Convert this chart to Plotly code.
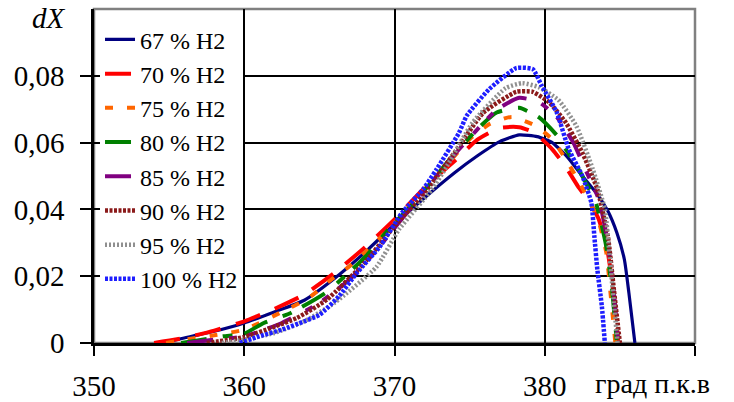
import plotly.graph_objects as go

# ---- data ----
x_67 = [354.5, 356, 358, 360, 362, 364, 366, 368, 370, 372, 374, 375.5, 377, 378.3, 379.5, 380.5, 381.5, 382.5, 383.5, 384.2, 384.8, 385.3, 385.6, 386.0]
y_67 = [0, 0.0015, 0.0035, 0.006, 0.0093, 0.0128, 0.0193, 0.027, 0.0355, 0.0435, 0.051, 0.056, 0.0603, 0.0623, 0.0618, 0.060, 0.0557, 0.050, 0.0445, 0.0395, 0.033, 0.025, 0.015, 0]

x_70 = [354, 356, 358, 360, 362, 364, 366, 368, 370, 372, 374, 375.5, 377, 378.3, 379.3, 380.5, 381.4, 382.2, 383, 383.6, 384.2, 384.6, 384.9]
y_70 = [0, 0.0015, 0.0037, 0.0065, 0.0102, 0.0145, 0.021, 0.0285, 0.037, 0.0465, 0.0545, 0.0608, 0.0644, 0.0646, 0.063, 0.058, 0.0527, 0.047, 0.042, 0.037, 0.027, 0.014, 0]

x_75 = [354.8, 356, 358, 360, 362.5, 364.3, 365.5, 367, 368.5, 370, 372, 374, 375, 376.3, 377.8, 379.4, 380.5, 381.3, 382.1, 383.5, 384.1, 384.4, 384.7]
y_75 = [0, 0.001, 0.0023, 0.004, 0.0093, 0.0135, 0.018, 0.023, 0.029, 0.036, 0.046, 0.056, 0.061, 0.0655, 0.0677, 0.065, 0.061, 0.0557, 0.0497, 0.0377, 0.027, 0.0138, 0]

x_80 = [355.8, 357, 358.6, 360, 361.3, 363.1, 365.4, 366.8, 368.1, 369.6, 371.5, 373.5, 375.5, 376.8, 378.3, 379.6, 380.9, 381.4, 382.2, 383.4, 384.1, 384.5, 384.8]
y_80 = [0, 0.0008, 0.002, 0.0028, 0.006, 0.009, 0.015, 0.0204, 0.026, 0.034, 0.043, 0.054, 0.064, 0.069, 0.0704, 0.0676, 0.0617, 0.058, 0.0524, 0.042, 0.0288, 0.015, 0]

x_85 = [356.2, 358, 360, 362.5, 365, 367.2, 369.2, 371.5, 374.3, 376.8, 378.3, 379.6, 380.8, 381.9, 382.8, 383.6, 384.2, 384.6, 384.9]
y_85 = [0, 0.001, 0.002, 0.006, 0.012, 0.0198, 0.030, 0.0428, 0.058, 0.0698, 0.0734, 0.0722, 0.0677, 0.060, 0.051, 0.043, 0.030, 0.015, 0]

x_90 = [357.5, 360, 363.5, 365.5, 368, 370, 372, 374, 375.9, 378.1, 379.2, 380.3, 381.4, 382.5, 383.5, 384.2, 384.6, 385.0]
y_90 = [0, 0.0018, 0.0075, 0.013, 0.024, 0.035, 0.045, 0.057, 0.0689, 0.0752, 0.0752, 0.072, 0.066, 0.057, 0.046, 0.032, 0.016, 0]

x_95 = [358.5, 360, 362, 364, 366, 368.8, 370.3, 372.5, 373.5, 375.2, 377.4, 378.5, 379.6, 380.9, 382.1, 383.2, 384.0, 384.3, 384.6, 384.85]
y_95 = [0, 0.001, 0.003, 0.0065, 0.012, 0.0228, 0.034, 0.046, 0.053, 0.066, 0.0763, 0.0778, 0.0766, 0.0728, 0.065, 0.052, 0.040, 0.027, 0.012, 0]

x_100 = [359.7, 361, 362.5, 364, 365, 366.3, 367.5, 369, 370.5, 371.9, 372.8, 374.3, 374.8, 376.3, 378.1, 379.2, 379.8, 380.8, 381.6, 382.5, 383.1, 383.3, 383.5, 383.8, 384.0]
y_100 = [0, 0.002, 0.004, 0.0065, 0.0084, 0.014, 0.021, 0.0287, 0.039, 0.046, 0.052, 0.063, 0.068, 0.076, 0.0823, 0.082, 0.077, 0.069, 0.058, 0.050, 0.042, 0.032, 0.022, 0.011, 0]

series_names = ["67 % H2", "70 % H2", "75 % H2", "80 % H2", "85 % H2", "90 % H2", "95 % H2", "100 % H2"]

x_tickvals = [350, 360, 370, 380, 390]
x_ticktext = ["350", "360", "370", "380", ""]
y_tickvals = [0, 0.02, 0.04, 0.06, 0.08]
y_ticktext = ["0", "0,02", "0,04", "0,06", "0,08"]
x_unit = "град п.к.в"
y_title = "dX"

# ---- styles ----
styles = [
    dict(color="#000080", width=3.2, dash="solid"),
    dict(color="#FF0000", width=4, dash="26px,16px"),
    dict(color="#FF6600", width=4, dash="8px,14px"),
    dict(color="#008000", width=4, dash="26px,16px,10px,12px"),
    dict(color="#800080", width=4, dash="26px,16px,8px,12px,8px,12px"),
    dict(color="#8B1A1A", width=4.5, dash="3px,1.5px"),
    dict(color="#909090", width=4.5, dash="2px,2px"),
    dict(color="#1E1EFF", width=4.5, dash="3px,1.5px"),
]

xs = [x_67, x_70, x_75, x_80, x_85, x_90, x_95, x_100]
ys = [y_67, y_70, y_75, y_80, y_85, y_90, y_95, y_100]

FONT = "Liberation Serif, serif"

fig = go.Figure()
for name, xv, yv, st in zip(series_names, xs, ys, styles):
    fig.add_trace(go.Scatter(x=xv, y=yv, name=name, mode="lines",
                             line=dict(color=st["color"], width=st["width"], dash=st["dash"],
                                       shape="spline", smoothing=0.5)))

fig.update_layout(
    width=734, height=402,
    margin=dict(l=94, r=39, t=9, b=59, autoexpand=False),
    paper_bgcolor="white", plot_bgcolor="white",
    font=dict(family=FONT, size=29, color="black"),
    showlegend=True,
    legend=dict(x=0.01, y=0.975, xanchor="left", yanchor="top",
                bgcolor="white", borderwidth=0,
                font=dict(family=FONT, size=24, color="black"),
                tracegroupgap=0),
    xaxis=dict(range=[350, 390], tickvals=x_tickvals, ticktext=x_ticktext,
               showgrid=True, gridcolor="black", gridwidth=2,
               showline=True, linecolor="black", linewidth=2.5,
               ticks="outside", ticklen=10, tickwidth=2, tickcolor="black",
               ticklabelstandoff=5, zeroline=False, automargin=False,
               tickfont=dict(family=FONT, size=29, color="black")),
    yaxis=dict(range=[0, 0.1], tickvals=y_tickvals, ticktext=y_ticktext,
               showgrid=True, gridcolor="black", gridwidth=2,
               showline=True, linecolor="black", linewidth=2.5,
               ticks="outside", ticklen=11, tickwidth=2, tickcolor="black",
               ticklabelstandoff=10, zeroline=False, automargin=False,
               tickfont=dict(family=FONT, size=29, color="black")),
    shapes=[dict(type="rect", xref="paper", yref="paper", x0=0, x1=1, y0=0, y1=1,
                 line=dict(color="#808080", width=2.5), layer="below")],
    annotations=[
        dict(text="<i>" + y_title + "</i>", xref="paper", yref="paper",
             x=-0.075, y=0.973, xanchor="center", yanchor="middle", showarrow=False,
             font=dict(family=FONT, size=29)),
        dict(text=x_unit, xref="paper", yref="paper",
             x=0.93, y=-0.12, xanchor="center", yanchor="middle", showarrow=False,
             font=dict(family=FONT, size=28)),
    ],
)

fig.write_html("out.html")
